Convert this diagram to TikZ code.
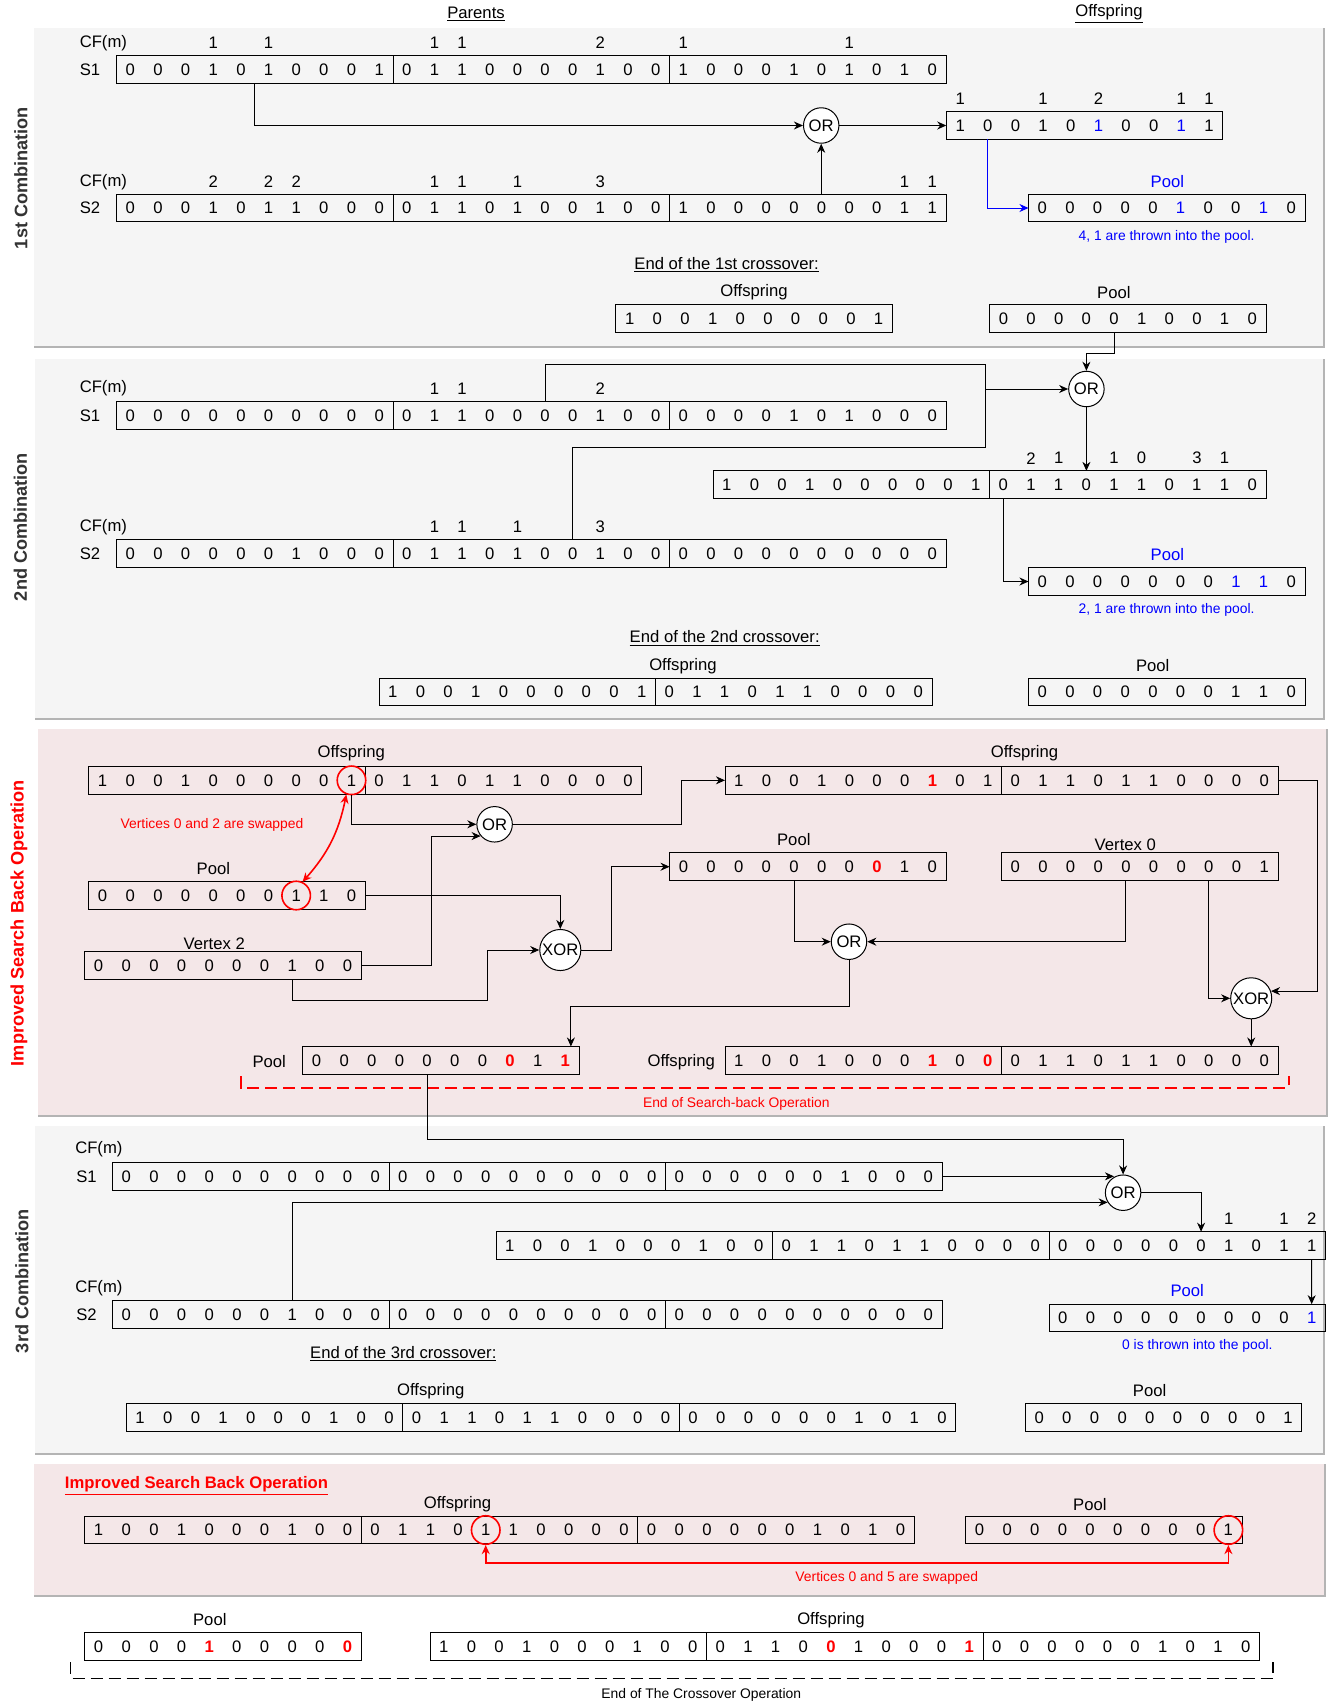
\documentclass[tikz,border=0pt]{standalone}
\usepackage{fontspec}
\setmainfont{Liberation Sans}
\usetikzlibrary{positioning,arrows.meta,calc}

\definecolor{panelgray}{HTML}{F5F5F5}
\definecolor{panelpink}{HTML}{F4E7E8}
\definecolor{panelline}{HTML}{B4B4B4}
\definecolor{sidegray}{HTML}{333333}

\newcommand{\fsz}{\fontsize{12.5}{15}\selectfont}
\newcommand{\fsm}{\fontsize{10.4}{12.5}\selectfont}
\newcommand{\hr}[1]{\textcolor{red}{\bfseries #1}}
\newcommand{\hb}[1]{\textcolor{blue}{#1}}
% ten cells of a chromosome segment
\newcommand{\digs}[1]{\foreach \dg in {#1}{\makebox[20.7375pt]{\dg}}}
% CF(m) counts above given cells
\newcommand{\cfrow}[2]{\foreach \ci/\cv in {#2}
  \node[cfnum] (#1-cf\ci) at ($(#1.west)+({(\ci+0.5)*27.65},-26.5)$) {\cv};}

\begin{document}
\begin{tikzpicture}[
  x=0.75pt, y=-0.75pt,
  every node/.style={font=\fsz},
  seg/.style={draw, line width=0.75pt, minimum width=207.375pt, minimum height=20.7pt, inner sep=0pt, outer sep=0pt, anchor=west},
  lbl/.style={inner sep=0pt},
  cfnum/.style={inner sep=0pt},
  note/.style={inner sep=0pt, font=\fsm},
  gate/.style={circle, draw, fill=white, line width=0.75pt, minimum size=26.6pt, inner sep=0pt},
  xgate/.style={gate, minimum size=30.8pt},
  ring/.style={circle, draw=red, line width=1.2pt, minimum size=21.4pt, inner sep=0pt},
  arr/.style={line width=0.75pt, -{Stealth[length=6.8pt,width=6pt,inset=2.2pt]}},
  swap/.style={red, line width=1.2pt, {Stealth[length=6.8pt,width=6pt,inset=2.2pt]}-{Stealth[length=6.8pt,width=6pt,inset=2.2pt]}},
  panel/.style={draw=panelline, line width=0.8pt},
  side/.style={rotate=90, font=\fontsize{13.6}{16}\selectfont\bfseries, text=sidegray}
]
\useasboundingbox (0,0) rectangle (1333,1702);
\fill[white] (0,0) rectangle (1333,1702);

% --- panels ---
\fill[panelgray] (34,28) rectangle (1324,347);
\draw[panel] (34,347) -| (1324,28);
\fill[panelgray] (35,359) rectangle (1324,719);
\draw[panel] (35,719) -| (1324,359);
\fill[panelpink] (38,729) rectangle (1327,1116);
\draw[panel] (38,1116) -| (1327,729);
\fill[panelgray] (35,1126) rectangle (1324,1454);
\draw[panel] (35,1454) -| (1324,1126);
\fill[panelpink] (34,1464) rectangle (1325,1596);
\draw[panel] (34,1596) -| (1325,1464);

\node[side] (Side1) at (21,178) {1st Combination};
\node[side] (Side2) at (20.5,527) {2nd Combination};
\node[side, text=red] (Side3) at (19,923) {Improved Search Back Operation};
\node[side] (Side4) at (22,1281) {3rd Combination};

\node[lbl] (Parents) at (476,14) {\underline{Parents}};
\node[lbl] (OffTitle) at (1109,14) {\underline{Offspring}};

% --- 1st combination ---
\node[lbl, anchor=west] (P1CF1) at (79.5,43.3) {CF(m)};
\node[lbl, anchor=west] (P1L1) at (79.5,69.5) {S1};
\node[seg] (P1S1a) at (116.5,69.5) {\digs{0,0,0,1,0,1,0,0,0,1}};
\node[seg, right=0pt of P1S1a] (P1S1b) {\digs{0,1,1,0,0,0,0,1,0,0}};
\node[seg, right=0pt of P1S1b] (P1S1c) {\digs{1,0,0,0,1,0,1,0,1,0}};
\cfrow{P1S1a}{3/1,5/1,11/1,12/1,17/2,20/1,26/1}

\node[lbl, anchor=west] (P1CF2) at (79.5,181.7) {CF(m)};
\node[lbl, anchor=west] (P1L2) at (79.5,208) {S2};
\node[seg] (P1S2a) at (116.5,208) {\digs{0,0,0,1,0,1,1,0,0,0}};
\node[seg, right=0pt of P1S2a] (P1S2b) {\digs{0,1,1,0,1,0,0,1,0,0}};
\node[seg, right=0pt of P1S2b] (P1S2c) {\digs{1,0,0,0,0,0,0,0,1,1}};
\cfrow{P1S2a}{3/2,5/2,6/2,11/1,12/1,14/1,17/3,28/1,29/1}

\node[gate] (P1Or) at (821.2,125.5) {OR};
\node[seg] (P1Off) at (946.3,125.5) {\digs{1,0,0,1,0,\hb{1},0,0,\hb{1},1}};
\cfrow{P1Off}{0/1,3/1,5/2,8/1,9/1}
\node[lbl, text=blue] (P1PoolL) at (1167.3,181.7) {Pool};
\node[seg] (P1Pool) at (1028.5,208) {\digs{0,0,0,0,0,\hb{1},0,0,\hb{1},0}};
\node[note, text=blue] (P1Note) at (1166.6,236.7) {4, 1 are thrown into the pool.};

\node[lbl] (P1End) at (726.6,265) {\underline{End of the 1st crossover:}};
\node[lbl] (P1EOffL) at (754,292.3) {Offspring};
\node[seg] (P1EOff) at (615.9,318.3) {\digs{1,0,0,1,0,0,0,0,0,1}};
\node[lbl] (P1EPoolL) at (1113.8,292.3) {Pool};
\node[seg] (P1EPool) at (989.6,318.3) {\digs{0,0,0,0,0,1,0,0,1,0}};

\draw[arr] (P1S1a.south) |- (P1Or);
\draw[arr] (P1S2c.north -| P1Or) -- (P1Or);
\draw[arr] (P1Or) -- (P1Off);
\draw[arr, blue] ($(P1Off.south west)!0.15!(P1Off.south east)$) |- (P1Pool);

% --- 2nd combination ---
\node[lbl, anchor=west] (P2CF1) at (79.5,388.3) {CF(m)};
\node[lbl, anchor=west] (P2L1) at (79.5,415.3) {S1};
\node[seg] (P2S1a) at (116.5,415.3) {\digs{0,0,0,0,0,0,0,0,0,0}};
\node[seg, right=0pt of P2S1a] (P2S1b) {\digs{0,1,1,0,0,0,0,1,0,0}};
\node[seg, right=0pt of P2S1b] (P2S1c) {\digs{0,0,0,0,1,0,1,0,0,0}};
\cfrow{P2S1a}{11/1,12/1,17/2}

\node[lbl, anchor=west] (P2CF2) at (79.5,527.3) {CF(m)};
\node[lbl, anchor=west] (P2L2) at (79.5,553.7) {S2};
\node[seg] (P2S2a) at (116.5,553.7) {\digs{0,0,0,0,0,0,1,0,0,0}};
\node[seg, right=0pt of P2S2a] (P2S2b) {\digs{0,1,1,0,1,0,0,1,0,0}};
\node[seg, right=0pt of P2S2b] (P2S2c) {\digs{0,0,0,0,0,0,0,0,0,0}};
\cfrow{P2S2a}{11/1,12/1,14/1,17/3}

\node[gate] (P2Or) at (1086.4,389) {OR};
\node[seg] (P2Offa) at (713,484.7) {\digs{1,0,0,1,0,0,0,0,0,1}};
\node[seg, right=0pt of P2Offa] (P2Offb) {\digs{0,1,1,0,1,1,0,1,1,0}};
\cfrow{P2Offa}{11/2,12/1,14/1,15/0,17/3,18/1}
\node[lbl, text=blue] (P2PoolL) at (1167.3,555) {Pool};
\node[seg] (P2Pool) at (1028.5,581.5) {\digs{0,0,0,0,0,0,0,\hb{1},\hb{1},0}};
\node[note, text=blue] (P2Note) at (1166.6,610) {2, 1 are thrown into the pool.};

\node[lbl] (P2End) at (724.7,638.3) {\underline{End of the 2nd crossover:}};
\node[lbl] (P2EOffL) at (682.9,665.7) {Offspring};
\node[seg] (P2EOffa) at (379,692) {\digs{1,0,0,1,0,0,0,0,0,1}};
\node[seg, right=0pt of P2EOffa] (P2EOffb) {\digs{0,1,1,0,1,1,0,0,0,0}};
\node[lbl] (P2EPoolL) at (1152.7,665.7) {Pool};
\node[seg] (P2EPool) at (1028.5,692) {\digs{0,0,0,0,0,0,0,1,1,0}};

\draw[arr] ($(P1EPool.south west)!0.45!(P1EPool.south east)$) -- ++(0,21) -| (P2Or);
\coordinate (P2Join) at (985.2,447.7);
\draw[line width=0.75pt] ($(P2S1b.north west)!0.55!(P2S1b.north east)$) -- ++(0,-37.2) -| (P2Join) -| ($(P2S2b.north west)!0.65!(P2S2b.north east)$);
\draw[arr] (P2Join |- P2Or) -- (P2Or);
\draw[arr] (P2Or) -- (P2Or |- P2Offb.north);
\draw[arr] ($(P2Offb.south west)!0.05!(P2Offb.south east)$) |- (P2Pool);

% --- improved search back ---
\node[lbl] (P3Off1L) at (351.3,753.3) {Offspring};
\node[seg] (P3Off1a) at (88.8,780.3) {\digs{1,0,0,1,0,0,0,0,0,1}};
\node[seg, right=0pt of P3Off1a] (P3Off1b) {\digs{0,1,1,0,1,1,0,0,0,0}};
\node[ring] (P3Ring1) at ($(P3Off1a.west)!0.95!(P3Off1a.east)$) {};
\node[note, text=red] (P3Swap) at (212,825) {Vertices 0 and 2 are swapped};
\node[lbl] (P3Pool1L) at (213.4,869) {Pool};
\node[seg] (P3Pool1) at (88.8,895.5) {\digs{0,0,0,0,0,0,0,1,1,0}};
\node[ring] (P3Ring2) at ($(P3Pool1.west)!0.75!(P3Pool1.east)$) {};
\node[lbl] (P3V2L) at (214.3,943.3) {Vertex 2};
\node[seg] (P3V2) at (84.8,965.5) {\digs{0,0,0,0,0,0,0,1,0,0}};

\node[gate] (P3Or1) at (494.6,824.3) {OR};
\node[xgate] (P3Xor1) at (560.3,950) {XOR};

\node[lbl] (P3Off2L) at (1024.5,753.3) {Offspring};
\node[seg] (P3Off2a) at (725,780.3) {\digs{1,0,0,1,0,0,0,\hr{1},0,1}};
\node[seg, right=0pt of P3Off2a] (P3Off2b) {\digs{0,1,1,0,1,1,0,0,0,0}};
\node[lbl] (P3Pool2L) at (793.8,840) {Pool};
\node[seg] (P3Pool2) at (669.6,866.7) {\digs{0,0,0,0,0,0,0,\hr{0},1,0}};
\node[lbl] (P3V0L) at (1125.3,844.3) {Vertex 0};
\node[seg] (P3V0) at (1001.5,866.7) {\digs{0,0,0,0,0,0,0,0,0,1}};
\node[gate] (P3Or2) at (849,941.7) {OR};
\node[xgate] (P3Xor2) at (1251.2,998.3) {XOR};

\node[lbl] (P3Pool3L) at (269.2,1061.7) {Pool};
\node[seg] (P3Pool3) at (302.7,1060.3) {\digs{0,0,0,0,0,0,0,\hr{0},1,\hr{1}}};
\node[lbl] (P3Off3L) at (681.2,1061.7) {Offspring};
\node[seg] (P3Off3a) at (725,1060.3) {\digs{1,0,0,1,0,0,0,\hr{1},0,\hr{0}}};
\node[seg, right=0pt of P3Off3a] (P3Off3b) {\digs{0,1,1,0,1,1,0,0,0,0}};

\draw[arr] (P3Ring1.south) |- (P3Or1);
\draw[swap] (P3Ring1.250) to[bend left=15] (P3Ring2.65);
\draw[arr] (P3V2.east) -- ++(70.4,0) |- (P3Or1.220);
\draw[arr] (P3Pool1.east) -| (P3Xor1);
\draw[arr] ($(P3V2.south west)!0.75!(P3V2.south east)$) -- ++(0,21.4) -- ++(195,0) |- (P3Xor1.west);
\draw[arr] (P3Xor1.east) -- ++(30,0) |- (P3Pool2);
\draw[arr] (P3Or1.east) -- ++(168.8,0) |- (P3Off2a);
\draw[arr] ($(P3Pool2.south west)!0.45!(P3Pool2.south east)$) |- (P3Or2);
\draw[arr] ($(P3V0.south west)!0.45!(P3V0.south east)$) |- (P3Or2);
\draw[arr] (P3Or2.south) -- ++(0,46.3) -| ($(P3Pool3.north west)!0.97!(P3Pool3.north east)$);
\draw[arr] (P3Off2b.east) -- ++(39,0) |- (P3Xor2.20);
\draw[arr] ($(P3V0.south west)!0.75!(P3V0.south east)$) |- (P3Xor2);
\draw[arr] (P3Xor2) -- (P3Xor2 |- P3Off3b.north);

\draw[red, line width=1.2pt, dash pattern=on 9pt off 4.5pt] (241,1076) |- (1288.8,1087.7) -- (1288.8,1076);
\node[note, text=red] (P3End) at (736.3,1104) {End of Search-back Operation};

% --- 3rd combination ---
\node[gate] (P4Or) at (1123.1,1192.7) {OR};
\node[lbl, anchor=west] (P4CF1) at (75,1149.3) {CF(m)};
\node[lbl, anchor=west] (P4L1) at (76,1176.3) {S1};
\node[seg] (P4S1a) at (112.5,1176.3) {\digs{0,0,0,0,0,0,0,0,0,0}};
\node[seg, right=0pt of P4S1a] (P4S1b) {\digs{0,0,0,0,0,0,0,0,0,0}};
\node[seg, right=0pt of P4S1b] (P4S1c) {\digs{0,0,0,0,0,0,1,0,0,0}};

\node[seg] (P4Offa) at (496,1245.5) {\digs{1,0,0,1,0,0,0,1,0,0}};
\node[seg, right=0pt of P4Offa] (P4Offb) {\digs{0,1,1,0,1,1,0,0,0,0}};
\node[seg, right=0pt of P4Offb] (P4Offc) {\digs{0,0,0,0,0,0,1,0,1,1}};
\cfrow{P4Offa}{26/1,28/1,29/2}
\node[lbl, text=blue] (P4PoolL) at (1187.2,1290.7) {Pool};
\node[seg] (P4Pool) at (1049,1318) {\digs{0,0,0,0,0,0,0,0,0,\hb{1}}};
\node[note, text=blue] (P4Note) at (1197.3,1346) {0 is thrown into the pool.};

\node[lbl, anchor=west] (P4CF2) at (75,1287.7) {CF(m)};
\node[lbl, anchor=west] (P4L2) at (76,1314.5) {S2};
\node[seg] (P4S2a) at (112.5,1314.5) {\digs{0,0,0,0,0,0,1,0,0,0}};
\node[seg, right=0pt of P4S2a] (P4S2b) {\digs{0,0,0,0,0,0,0,0,0,0}};
\node[seg, right=0pt of P4S2b] (P4S2c) {\digs{0,0,0,0,0,0,0,0,0,0}};

\node[lbl] (P4End) at (403.3,1353.7) {\underline{End of the 3rd crossover:}};
\node[lbl] (P4EOffL) at (430.8,1391) {Offspring};
\node[seg] (P4EOffa) at (126.3,1417.5) {\digs{1,0,0,1,0,0,0,1,0,0}};
\node[seg, right=0pt of P4EOffa] (P4EOffb) {\digs{0,1,1,0,1,1,0,0,0,0}};
\node[seg, right=0pt of P4EOffb] (P4EOffc) {\digs{0,0,0,0,0,0,1,0,1,0}};
\node[lbl] (P4EPoolL) at (1149.6,1391) {Pool};
\node[seg] (P4EPool) at (1025.4,1417.5) {\digs{0,0,0,0,0,0,0,0,0,1}};

\draw[arr] ($(P3Pool3.south west)!0.45!(P3Pool3.south east)$) -- ++(0,64.9) -| (P4Or);
\draw[arr] (P4S1c.east) -- (P4S1c.east -| P4Or.120);
\draw[arr] ($(P4S2a.north west)!0.65!(P4S2a.north east)$) |- (P4Or.212);
\draw[arr] (P4Or) -| ($(P4Offc.north west)!0.55!(P4Offc.north east)$);
\draw[arr] ($(P4Offc.south west)!0.95!(P4Offc.south east)$) -- ($(P4Pool.north west)!0.95!(P4Pool.north east)$);

% --- second search back ---
\node[lbl, anchor=west, font=\fsz\bfseries, text=red] (P5Title) at (64.7,1486) {\underline{Improved Search Back Operation}};
\node[lbl] (P5OffL) at (457.6,1504.3) {Offspring};
\node[seg] (P5Offa) at (84.8,1530) {\digs{1,0,0,1,0,0,0,1,0,0}};
\node[seg, right=0pt of P5Offa] (P5Offb) {\digs{0,1,1,0,1,1,0,0,0,0}};
\node[seg, right=0pt of P5Offb] (P5Offc) {\digs{0,0,0,0,0,0,1,0,1,0}};
\node[ring] (P5Ring1) at ($(P5Offb.west)!0.45!(P5Offb.east)$) {};
\node[lbl] (P5PoolL) at (1089.9,1504.3) {Pool};
\node[seg] (P5Pool) at (965.7,1530) {\digs{0,0,0,0,0,0,0,0,0,1}};
\node[ring] (P5Ring2) at ($(P5Pool.west)!0.95!(P5Pool.east)$) {};
\draw[swap] (P5Ring2.south) -- ++(0,17.7) -| (P5Ring1.south);
\node[note, text=red] (P5Swap) at (886.8,1578.3) {Vertices 0 and 5 are swapped};

% --- final result ---
\node[lbl] (FPoolL) at (209.8,1620) {Pool};
\node[seg] (FPool) at (84.8,1646.3) {\digs{0,0,0,0,\hr{1},0,0,0,0,\hr{0}}};
\node[lbl] (FOffL) at (830.9,1620) {Offspring};
\node[seg] (FOffa) at (430,1646.3) {\digs{1,0,0,1,0,0,0,1,0,0}};
\node[seg, right=0pt of FOffa] (FOffb) {\digs{0,1,1,0,\hr{0},1,0,0,0,\hr{1}}};
\node[seg, right=0pt of FOffb] (FOffc) {\digs{0,0,0,0,0,0,1,0,1,0}};
\draw[line width=1.2pt, dash pattern=on 9pt off 4.5pt] (70.5,1662.3) |- (1272.9,1678.3) -- (1272.9,1661.7);
\node[note] (FEnd) at (701.3,1695) {End of The Crossover Operation};

\end{tikzpicture}
\end{document}
